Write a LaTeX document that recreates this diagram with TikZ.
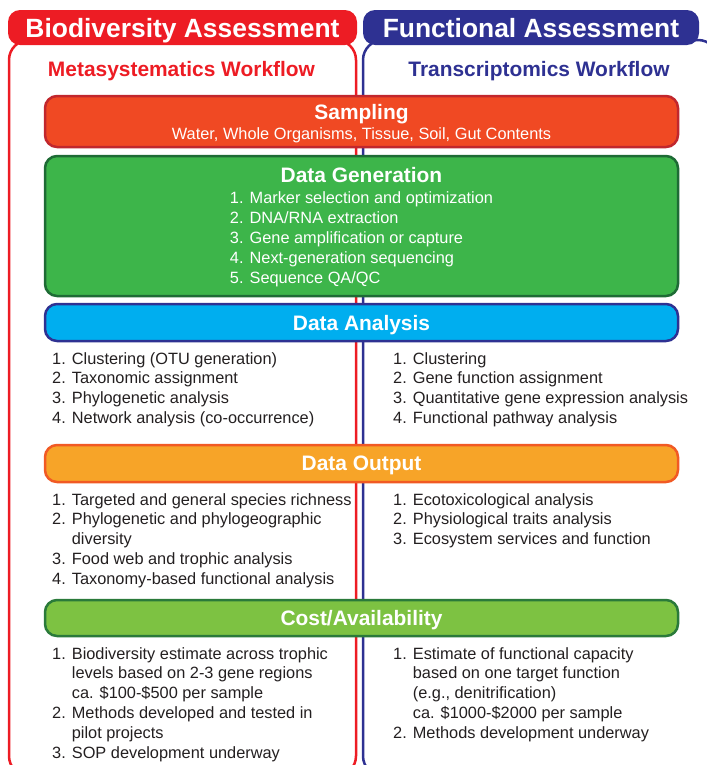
\documentclass[tikz,border=0pt]{standalone}
\usepackage{fontspec}
\setmainfont{Liberation Sans}
\usepackage{tikz}

\definecolor{hdred}{HTML}{ED1C24}
\definecolor{hdblue}{HTML}{2E3192}
\definecolor{sampfill}{HTML}{F04923}
\definecolor{sampdraw}{HTML}{C1272D}
\definecolor{genfill}{HTML}{3DB54A}
\definecolor{gendraw}{HTML}{1E6B35}
\definecolor{anafill}{HTML}{00AEEF}
\definecolor{anadraw}{HTML}{2E3192}
\definecolor{outfill}{HTML}{F7A428}
\definecolor{outdraw}{HTML}{F15A24}
\definecolor{costfill}{HTML}{7DC242}
\definecolor{costdraw}{HTML}{2A7A3A}
\definecolor{lsttext}{HTML}{231F20}

\newcommand{\hdfont}{\fontsize{26.5}{30}\selectfont\bfseries}
\newcommand{\wffont}{\fontsize{21}{24}\selectfont\bfseries}
\newcommand{\stgfont}{\fontsize{21}{21}\selectfont\bfseries}
\newcommand{\lstfont}{\fontsize{16.4}{20}\selectfont}

\tikzset{
column/.style={line width=2.5bp,rounded corners=20bp},
header/.style={rounded corners=12bp,minimum width=#1,minimum height=35bp,inner sep=0bp,text depth=0bp,text=white,font=\hdfont},
stage/.style={draw,line width=2.5bp,rounded corners=12bp,minimum width=633bp,inner sep=0bp,text=white,align=center,font=\stgfont},
flat/.style={text depth=0bp},
steps/.style={anchor=north west,inner sep=0bp,align=left,text=lsttext,font=\lstfont}
}

\begin{document}
\begin{tikzpicture}
\useasboundingbox (0bp,0bp) rectangle (707bp,-765bp);
\clip (0bp,0bp) rectangle (707bp,-765bp);

\draw [column,draw=hdred] (9bp,-40bp) rectangle (356bp,-776bp);
\draw [column,draw=hdblue] (363bp,-40bp) rectangle (718bp,-776bp);

\node (biohd) at (182.5bp,-27.5bp)[header=349bp,fill=hdred] {Biodiversity Assessment};
\node (funchd) at (531bp,-27.5bp)[header=336bp,fill=hdblue] {Functional Assessment};
\node (metawf) at (181.5bp,-71bp)[font=\wffont,text=hdred] {Metasystematics Workflow};
\node (transwf) at (539bp,-71bp)[font=\wffont,text=hdblue] {Transcriptomics Workflow};

\node (sampling) at (361.5bp,-121.5bp)[stage,flat,fill=sampfill,draw=sampdraw,minimum height=51bp] {Sampling\\[-1bp]{\lstfont\mdseries Water, Whole Organisms, Tissue, Soil, Gut Contents}};
\node (generation) at (361.5bp,-226bp)[stage,fill=genfill,draw=gendraw,minimum height=140bp] {\rule{0bp}{20.5bp}Data Generation\\{\lstfont\mdseries\begin{tabular}[t]{@{}l@{}}1. Marker selection and optimization\\2. DNA/RNA extraction\\3. Gene amplification or capture\\4. Next-generation sequencing\\5. Sequence QA/QC\end{tabular}}};
\node (analysis) at (361.5bp,-322.5bp)[stage,flat,fill=anafill,draw=anadraw,minimum height=37bp] {Data Analysis};
\node (output) at (361.5bp,-463.5bp)[stage,flat,fill=outfill,draw=outdraw,minimum height=37bp] {Data Output};
\node (cost) at (361.5bp,-618bp)[stage,flat,fill=costfill,draw=costdraw,minimum height=36bp] {Cost/Availability};

\node (anabio) at (52bp,-352bp)[steps] {1. Clustering (OTU generation)\\2. Taxonomic assignment\\3. Phylogenetic analysis\\4. Network analysis (co-occurrence)};
\node (anafunc) at (393bp,-352bp)[steps] {1. Clustering\\2. Gene function assignment\\3. Quantitative gene expression analysis\\4. Functional pathway analysis};
\node (outbio) at (52bp,-493bp)[steps] {1. Targeted and general species richness\\2. Phylogenetic and phylogeographic\\\phantom{1. }diversity\\3. Food web and trophic analysis\\4. Taxonomy-based functional analysis};
\node (outfunc) at (393bp,-493bp)[steps] {1. Ecotoxicological analysis\\2. Physiological traits analysis\\3. Ecosystem services and function};
\node (costbio) at (52bp,-647bp)[steps] {1. Biodiversity estimate across trophic\\\phantom{1. }levels based on 2-3 gene regions\\\phantom{1. }ca. \$100-\$500 per sample\\2. Methods developed and tested in\\\phantom{1. }pilot projects\\3. SOP development underway};
\node (costfunc) at (393bp,-647bp)[steps] {1. Estimate of functional capacity\\\phantom{1. }based on one target function\\\phantom{1. }(e.g., denitrification)\\\phantom{1. }ca. \$1000-\$2000 per sample\\2. Methods development underway};
\end{tikzpicture}
\end{document}
